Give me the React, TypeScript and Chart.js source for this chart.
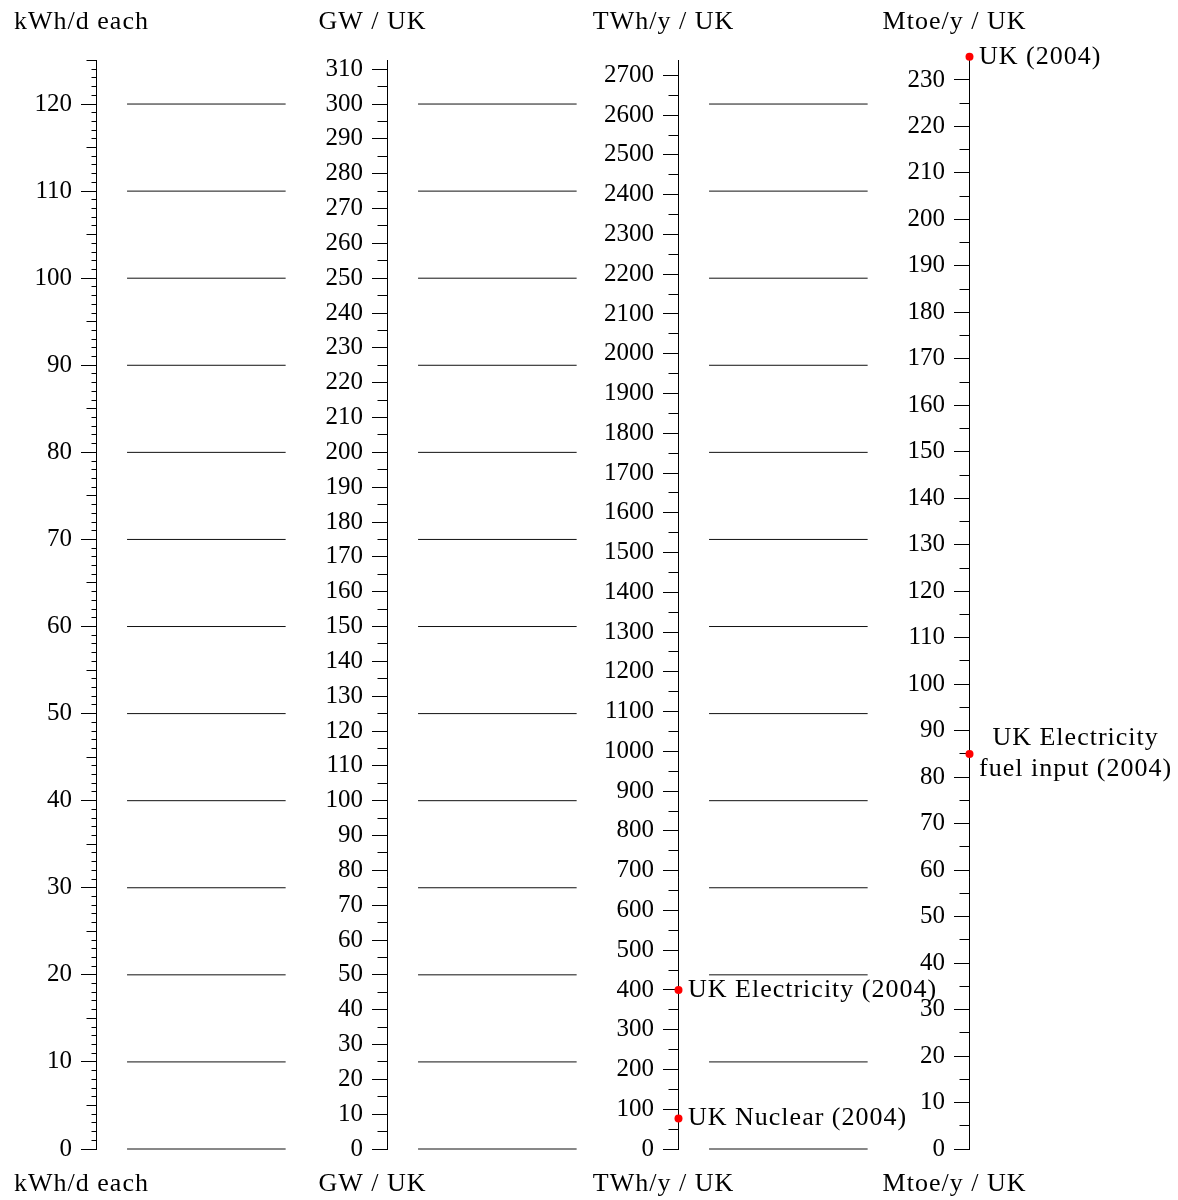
import React, { useEffect, useRef } from 'react';
import { Chart, registerables } from 'chart.js';

Chart.register(...registerables);

// ---- data ----
const COLUMN_TITLES = ['kWh/d each', 'GW / UK', 'TWh/y / UK', 'Mtoe/y / UK'];
// units of each column per 1 kWh/d per person (UK population)
const UNIT_FACTORS = [1, 2.5, 21.9, 1.8735];
const KWH_MAX = 125;
const MAJOR_STEPS = [10, 10, 100, 10];
const MINOR_STEPS = [5, 5, 50, 5];
const FINE_STEPS = [1, 0, 0, 0];
const REFERENCE_LEVELS = [0, 10, 20, 30, 40, 50, 60, 70, 80, 90, 100, 110, 120];
const TWH_VALUES = [400, 77];
const TWH_LABELS = [['UK Electricity (2004)'], ['UK Nuclear (2004)']];
const MTOE_VALUES = [235, 85];
const MTOE_LABELS = [['UK (2004)'], ['UK Electricity', 'fuel input (2004)']];

// ---- layout constants ----
const W = 1178;
const H = 1200;
const AXIS0_PX = 96.5;
const COL_PX = 291;
const LABEL_GAP_PX = 24.5;
const FONT = '"Liberation Serif", "Times New Roman", serif';
const FONT_SIZE = 25;
const TEXT_SIZE = 26;
const TEXT_SPACING = '1px';
const SEG_START = 0.105;
const SEG_END = 0.65;

function yAxis(col: number, step: number, tickLength: number) {
  return {
    type: 'linear',
    axis: 'y',
    position: { x: col },
    min: 0,
    max: KWH_MAX * UNIT_FACTORS[col],
    grid: {
      display: true,
      drawOnChartArea: false,
      drawTicks: true,
      tickLength,
      color: '#000',
      lineWidth: 1,
    },
    border: { display: true, color: '#000', width: 1 },
    ticks: {
      display: false,
      stepSize: step,
      autoSkip: false,
      includeBounds: false,
    },
  };
}

function labelAxis(col: number, step: number) {
  return {
    type: 'linear',
    axis: 'y',
    position: { x: col - LABEL_GAP_PX / COL_PX },
    min: 0,
    max: KWH_MAX * UNIT_FACTORS[col],
    grid: { display: false, drawOnChartArea: false, drawTicks: false },
    border: { display: false },
    ticks: {
      display: true,
      stepSize: step,
      autoSkip: false,
      includeBounds: false,
      padding: 0,
      color: '#000',
      font: { family: FONT, size: FONT_SIZE },
      callback: (v: number) => String(v),
    },
  };
}

const titlesPlugin = {
  id: 'columnTitles',
  afterDraw(chart: any) {
    const ctx = chart.ctx;
    const xs = chart.scales.x;
    ctx.save();
    ctx.font = `${TEXT_SIZE}px ${FONT}`;
    (ctx as any).letterSpacing = TEXT_SPACING;
    ctx.fillStyle = '#000';
    ctx.textAlign = 'center';
    ctx.textBaseline = 'alphabetic';
    COLUMN_TITLES.forEach((t, i) => {
      const cx = xs.getPixelForValue(i) - 15;
      ctx.fillText(t, cx, 29);
      ctx.fillText(t, cx, 1191);
    });
    ctx.restore();
  },
};

const pointLabelPlugin = {
  id: 'pointLabels',
  afterDatasetsDraw(chart: any) {
    const ctx = chart.ctx;
    ctx.save();
    ctx.font = `${TEXT_SIZE}px ${FONT}`;
    (ctx as any).letterSpacing = TEXT_SPACING;
    ctx.fillStyle = '#000';
    ctx.textBaseline = 'middle';
    chart.data.datasets.forEach((ds: any, i: number) => {
      if (!ds.pointLabels) return;
      const meta = chart.getDatasetMeta(i);
      meta.data.forEach((el: any, j: number) => {
        const lines: string[] = ds.pointLabels[j];
        const lh = 31.5;
        const widths = lines.map((l) => ctx.measureText(l).width);
        const bw = Math.max(...widths);
        const left = el.x + 9.5;
        const y0 = el.y - ((lines.length - 1) * lh) / 2;
        lines.forEach((l, k) => {
          if (lines.length > 1) {
            ctx.textAlign = 'center';
            ctx.fillText(l, left + bw / 2, y0 + k * lh);
          } else {
            ctx.textAlign = 'left';
            ctx.fillText(l, left, y0 + k * lh);
          }
        });
      });
    });
    ctx.restore();
  },
};

export default function App() {
  const ref = useRef<HTMLCanvasElement | null>(null);

  useEffect(() => {
    if (!ref.current) return;

    const lineDatasets = REFERENCE_LEVELS.map((v) => {
      const pts: any[] = [];
      for (let k = 0; k < 3; k++) {
        pts.push({ x: k + SEG_START, y: v });
        pts.push({ x: k + SEG_END, y: v });
        pts.push({ x: k + SEG_END + 0.01, y: null });
      }
      return {
        type: 'line',
        data: pts,
        yAxisID: 'y0',
        borderColor: '#111',
        borderWidth: 1,
        pointRadius: 0,
        spanGaps: false,
        fill: false,
        clip: false,
      };
    });

    const scales: any = {
      x: {
        type: 'linear',
        display: false,
        min: -AXIS0_PX / COL_PX,
        max: (W - AXIS0_PX) / COL_PX,
      },
    };
    for (let c = 0; c < 4; c++) {
      if (FINE_STEPS[c]) scales[`y${c}f`] = yAxis(c, FINE_STEPS[c], 4.5);
      scales[`y${c}m`] = yAxis(c, MINOR_STEPS[c], 9.5);
      scales[`y${c}`] = yAxis(c, MAJOR_STEPS[c], 15);
      scales[`y${c}l`] = labelAxis(c, MAJOR_STEPS[c]);
    }

    const chart = new Chart(ref.current, {
      type: 'scatter',
      data: {
        datasets: [
          ...lineDatasets,
          {
            type: 'scatter',
            data: TWH_VALUES.map((v) => ({ x: 2, y: v })),
            yAxisID: 'y2',
            pointRadius: 4,
            pointBackgroundColor: '#ff0000',
            pointBorderWidth: 0,
            clip: false,
            pointLabels: TWH_LABELS,
          } as any,
          {
            type: 'scatter',
            data: MTOE_VALUES.map((v) => ({ x: 3, y: v })),
            yAxisID: 'y3',
            pointRadius: 4,
            pointBackgroundColor: '#ff0000',
            pointBorderWidth: 0,
            clip: false,
            pointLabels: MTOE_LABELS,
          } as any,
        ] as any,
      },
      options: {
        animation: false,
        responsive: true,
        maintainAspectRatio: false,
        layout: { autoPadding: false, padding: { top: 60.5, bottom: 51, left: 0, right: 0 } },
        plugins: { legend: { display: false }, tooltip: { enabled: false } },
        events: [],
        scales,
      } as any,
      plugins: [titlesPlugin, pointLabelPlugin],
    });

    return () => chart.destroy();
  }, []);

  return (
    <div style={{ position: 'absolute', left: 0, top: 0, width: W, height: H, background: '#fff' }}>
      <canvas ref={ref} />
    </div>
  );
}
